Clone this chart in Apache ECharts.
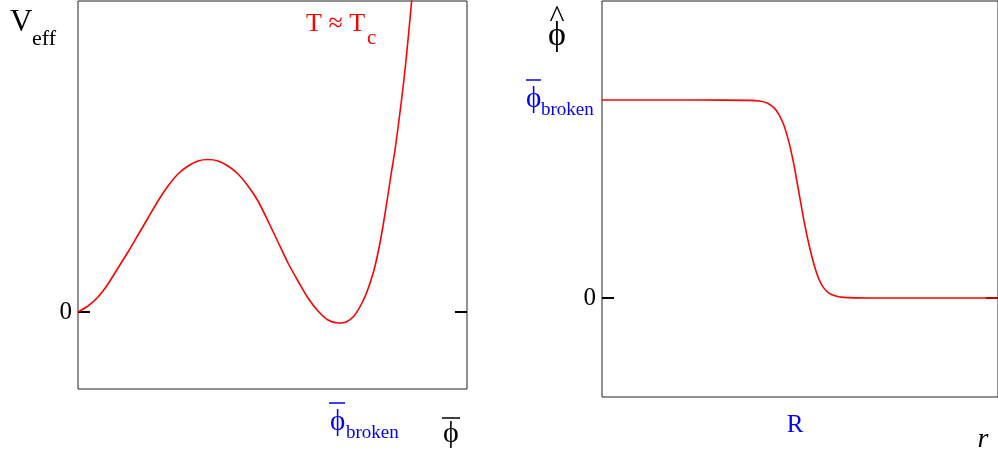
<!DOCTYPE html>
<html>
<head>
<meta charset="utf-8">
<script src="https://cdn.jsdelivr.net/npm/echarts@6/dist/echarts.min.js"></script>
<style>
  html, body { margin: 0; padding: 0; background: #fff; }
  #main { width: 998px; height: 456px; }
</style>
</head>
<body>
<div id="main"></div>
<script>
// left panel: effective potential V_eff(phi) at T ~ Tc
const veffPhi = [0, 0.10, 0.20, 0.30, 0.40, 0.50, 0.60, 0.70, 0.80, 0.90, 1.00, 1.10, 1.20, 1.30, 1.40, 1.50,
    1.60, 1.70, 1.80, 1.90, 2.00, 2.10, 2.20, 2.30, 2.40, 2.50, 2.60, 2.68, 2.76, 2.84, 2.90, 2.96,
    3.01, 3.05, 3.09, 3.13, 3.17, 3.21, 3.24, 3.27, 3.30, 3.33, 3.35];
const veffValues = [0, 0.06, 0.15, 0.28, 0.44, 0.60, 0.77, 0.94, 1.11, 1.26, 1.38, 1.46, 1.51, 1.525, 1.51, 1.46,
    1.38, 1.26, 1.11, 0.91, 0.70, 0.49, 0.31, 0.14, 0.01, -0.08, -0.11, -0.10, -0.04, 0.09, 0.23, 0.42,
    0.64, 0.86, 1.11, 1.37, 1.62, 1.92, 2.16, 2.42, 2.72, 3.04, 3.26];
// right panel: bubble profile phi_hat(r)
const profileR = [0, 0.98, 1.48, 1.58, 1.66, 1.73, 1.78, 1.83, 1.88, 1.93, 1.98, 2.03, 2.08, 2.13,
    2.18, 2.23, 2.28, 2.35, 2.43, 2.68, 3.98];
const profileValues = [1.0, 1.0, 0.998, 0.995, 0.985, 0.96, 0.925, 0.87, 0.785, 0.67, 0.53, 0.39, 0.27, 0.17,
    0.095, 0.05, 0.025, 0.01, 0.003, 0, 0];
const yTicks = [0];

const serif = '"Liberation Serif", "DejaVu Serif", serif';
const PHI = '\u03D5';

const chart = echarts.init(document.getElementById('main'));

function tickAxis(grid, min, max, pos, withLabel) {
    return {
        gridIndex: grid, type: 'value', min: min, max: max, position: pos,
        axisLine: { show: false },
        splitLine: { show: false },
        axisTick: { show: true, inside: true, length: 12, customValues: yTicks,
            lineStyle: { color: '#000', width: 2 } },
        axisLabel: { show: withLabel, customValues: yTicks, margin: 6,
            fontFamily: serif, fontSize: 25, color: '#000' }
    };
}

function txt(text, x, y, size, color, extra) {
    return {
        type: 'text',
        style: Object.assign({
            text: text, x: x, y: y, fill: color,
            font: size + 'px ' + serif,
            textAlign: 'left', textVerticalAlign: 'middle'
        }, extra || {})
    };
}
function bar(x1, x2, y, color) {
    return { type: 'line', shape: { x1: x1, y1: y, x2: x2, y2: y },
        style: { stroke: color, lineWidth: 1.5 } };
}

const option = {
    animation: false,
    grid: [
        { left: 78, top: 1, width: 389, height: 388, show: true, borderColor: '#222', borderWidth: 1 },
        { left: 602, top: 1, width: 398, height: 396, show: true, borderColor: '#222', borderWidth: 1 }
    ],
    xAxis: [
        { gridIndex: 0, type: 'value', min: 0, max: 3.89, show: false },
        { gridIndex: 1, type: 'value', min: 0, max: 3.98, show: false }
    ],
    yAxis: [
        tickAxis(0, -0.77, 3.11, 'left', true),
        tickAxis(0, -0.77, 3.11, 'right', false),
        tickAxis(1, -0.5, 1.5, 'left', true),
        tickAxis(1, -0.5, 1.5, 'right', false)
    ],
    series: [
        {
            type: 'line', xAxisIndex: 0, yAxisIndex: 0,
            data: veffPhi.map((p, i) => [p, veffValues[i]]),
            showSymbol: false, smooth: 0.25, clip: true,
            lineStyle: { color: '#ff0000', width: 1.6 }
        },
        {
            type: 'line', xAxisIndex: 1, yAxisIndex: 2,
            data: profileR.map((r, i) => [r, profileValues[i]]),
            showSymbol: false, smooth: 0.25, clip: true,
            lineStyle: { color: '#ff0000', width: 1.6 }
        }
    ],
    graphic: [
        // left panel labels
        txt('V', 10, 23, 31, '#000'),
        txt('eff', 32, 39, 22, '#000'),
        txt('T \u2248 T', 306, 24, 26, '#ff0000'),
        txt('c', 367, 38, 21, '#ff0000'),
        txt(PHI, 330, 422, 29, '#0000ff'),
        bar(329, 345, 403, '#0000ff'),
        txt('broken', 346, 433, 19, '#0000ff'),
        txt(PHI, 451, 434, 30, '#000', { textAlign: 'center' }),
        bar(442, 460, 418, '#000'),
        // right panel labels
        txt('^', 557, 19, 32, '#000', { textAlign: 'center' }),
        txt(PHI, 557, 36, 34, '#000', { textAlign: 'center' }),
        txt(PHI, 526, 99, 29, '#0000ff'),
        bar(526, 541, 80, '#0000ff'),
        txt('broken', 541, 110, 19, '#0000ff'),
        txt('R', 795, 425, 25, '#0000ff', { textAlign: 'center' }),
        txt('r', 983, 440, 28, '#000', { textAlign: 'center', font: 'italic 28px ' + serif })
    ]
};
chart.setOption(option);
</script>
</body>
</html>
